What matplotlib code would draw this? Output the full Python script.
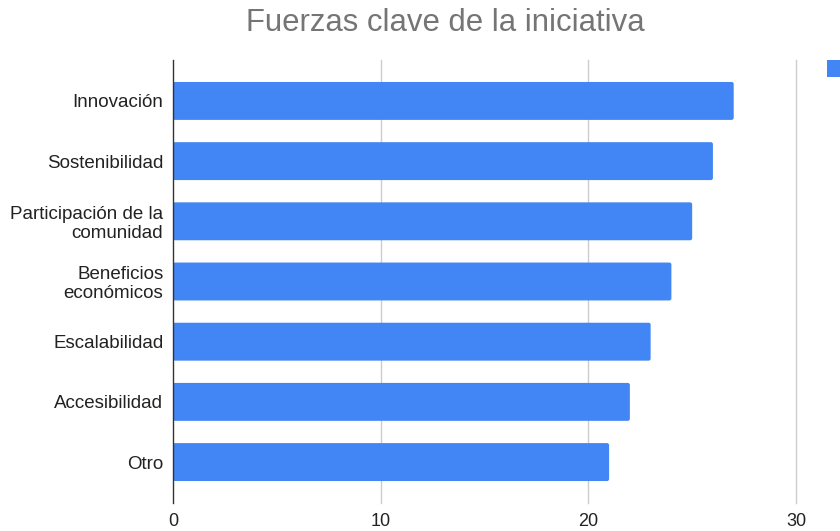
import matplotlib
matplotlib.use("Agg")
import matplotlib.pyplot as plt
from matplotlib.patches import FancyBboxPatch, Patch

plt.rcParams['font.family'] = ['Liberation Sans', 'DejaVu Sans']

categories = ["Innovación", "Sostenibilidad", "Participación de la\ncomunidad",
              "Beneficios\neconómicos", "Escalabilidad", "Accesibilidad", "Otro"]
values = [27, 26, 25, 24, 23, 22, 21]
x_ticks = [0, 10, 20, 30]

bar_color = "#4285f4"

fig = plt.figure(figsize=(8.4, 5.31), dpi=100)
ax = fig.add_axes([173/840, 1-503/531, (796-173)/840, (503-60)/531])

pos = list(range(len(categories)))
bars = ax.barh(pos, values, height=0.63, color=bar_color, zorder=3)

# swap the plain rectangles for slightly rounded ones
for b in bars:
    x, y, w, h = b.get_x(), b.get_y(), b.get_width(), b.get_height()
    b.set_visible(False)
    p = FancyBboxPatch((x, y), w, h, boxstyle="round,pad=0,rounding_size=0.1",
                       mutation_aspect=0.35, facecolor=bar_color,
                       edgecolor="none", zorder=3)
    ax.add_patch(p)

ax.set_xlim(0, 30)
ax.set_ylim(6.68, -0.68)
ax.set_yticks(pos)
ax.set_yticklabels(categories, fontsize=13.5, color="#222222", linespacing=1.1)
ax.set_xticks(x_ticks)
ax.set_xticklabels([str(t) for t in x_ticks], fontsize=13, color="#222222")
ax.tick_params(axis="both", length=0)
ax.tick_params(axis="y", pad=7)
ax.tick_params(axis="x", pad=7.5)

for t in x_ticks[1:]:
    ax.axvline(t, color="#cccccc", linewidth=1, zorder=0, clip_on=False)
for s in ["top", "right", "bottom"]:
    ax.spines[s].set_visible(False)
ax.spines["left"].set_color("#333333")
ax.spines["left"].set_linewidth(1)
ax.spines["left"].set_zorder(4)

fig.text(445/840, 1-23/531, "Fuerzas clave de la iniciativa", ha="center", va="center",
         fontsize=22.4, color="#757575")

# legend swatch sitting at the right edge of the canvas
fig.legend(handles=[Patch(facecolor=bar_color, edgecolor="none")], labels=[""],
           loc="upper left", bbox_to_anchor=(827/840, 1-60/531), frameon=False,
           borderpad=0, handlelength=1.3, handleheight=1.3, fontsize=11,
           borderaxespad=0)

fig.savefig("out.png", dpi=100)
